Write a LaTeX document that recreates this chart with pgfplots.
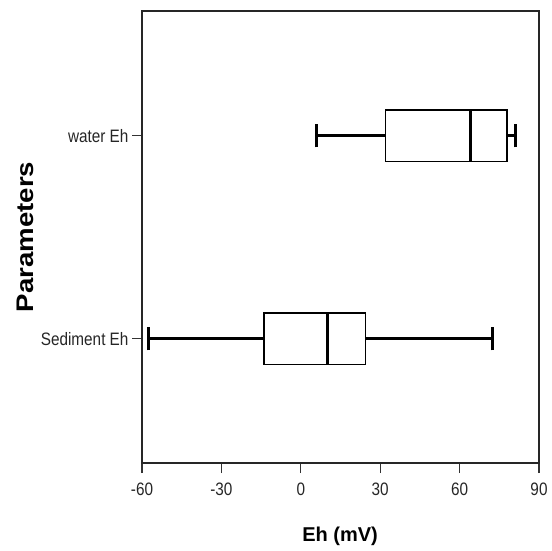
\documentclass[border=0pt]{standalone}
\usepackage{fontspec}
\setmainfont{Liberation Sans}
\usepackage{graphicx}
\usepackage{pgfplots}
\usepgfplotslibrary{statistics}
\pgfplotsset{compat=1.18}
\newcommand\sx[1]{\scalebox{0.85}[1]{#1}}
\begin{document}
\begin{tikzpicture}
\begin{axis}[name=ax, scale only axis, width=397bp, height=452bp,
  xmin=-60, xmax=90, ymin=0.388, ymax=2.615,
  xtick={-60,-30,0,30,60,90},
  xticklabels={\sx{-60},\sx{-30},\sx{0},\sx{30},\sx{60},\sx{90}},
  ytick={1,2}, yticklabels={\sx{Sediment Eh},\sx{water Eh}},
  xtick pos=left, ytick pos=left,
  tick align=outside, major tick length=10bp,
  tick style={black!80, line width=1.2bp},
  axis line style={line width=1.2bp, draw=black!85},
  ticklabel style={font=\fontsize{18bp}{20bp}\selectfont, text=black!85},
  xticklabel style={yshift=-6bp},
  xlabel={Eh (mV)},
  xlabel style={font=\fontsize{20bp}{24bp}\selectfont\bfseries, at={(axis description cs:0.499,-0.162)}, anchor=center},
  ylabel={\scalebox{1.15}[1]{Parameters}},
  ylabel style={font=\fontsize{24bp}{28bp}\selectfont\bfseries, at={(axis description cs:-0.295,0.5)}, anchor=center},
  boxplot/every whisker/.style={line width=3bp},
  boxplot/every median/.style={line width=3bp},
  boxplot/every box/.style={line width=1.5bp},
]
\addplot[black, solid, mark=none, line width=1.5bp,
  boxplot prepared={draw position=1, lower whisker=-57.7, lower quartile=-13.9,
    median=10.2, upper quartile=24.5, upper whisker=72.6,
    box extend=0.255, whisker extend=0.114}] coordinates {};
\addplot[black, solid, mark=none, line width=1.5bp,
  boxplot prepared={draw position=2, lower whisker=6.0, lower quartile=32.0,
    median=64.2, upper quartile=77.9, upper whisker=81.1,
    box extend=0.255, whisker extend=0.114}] coordinates {};
\end{axis}
\path ([shift={(-142bp,-87bp)}]ax.south west) rectangle ([shift={(13bp,11bp)}]ax.north east);
\end{tikzpicture}
\end{document}
